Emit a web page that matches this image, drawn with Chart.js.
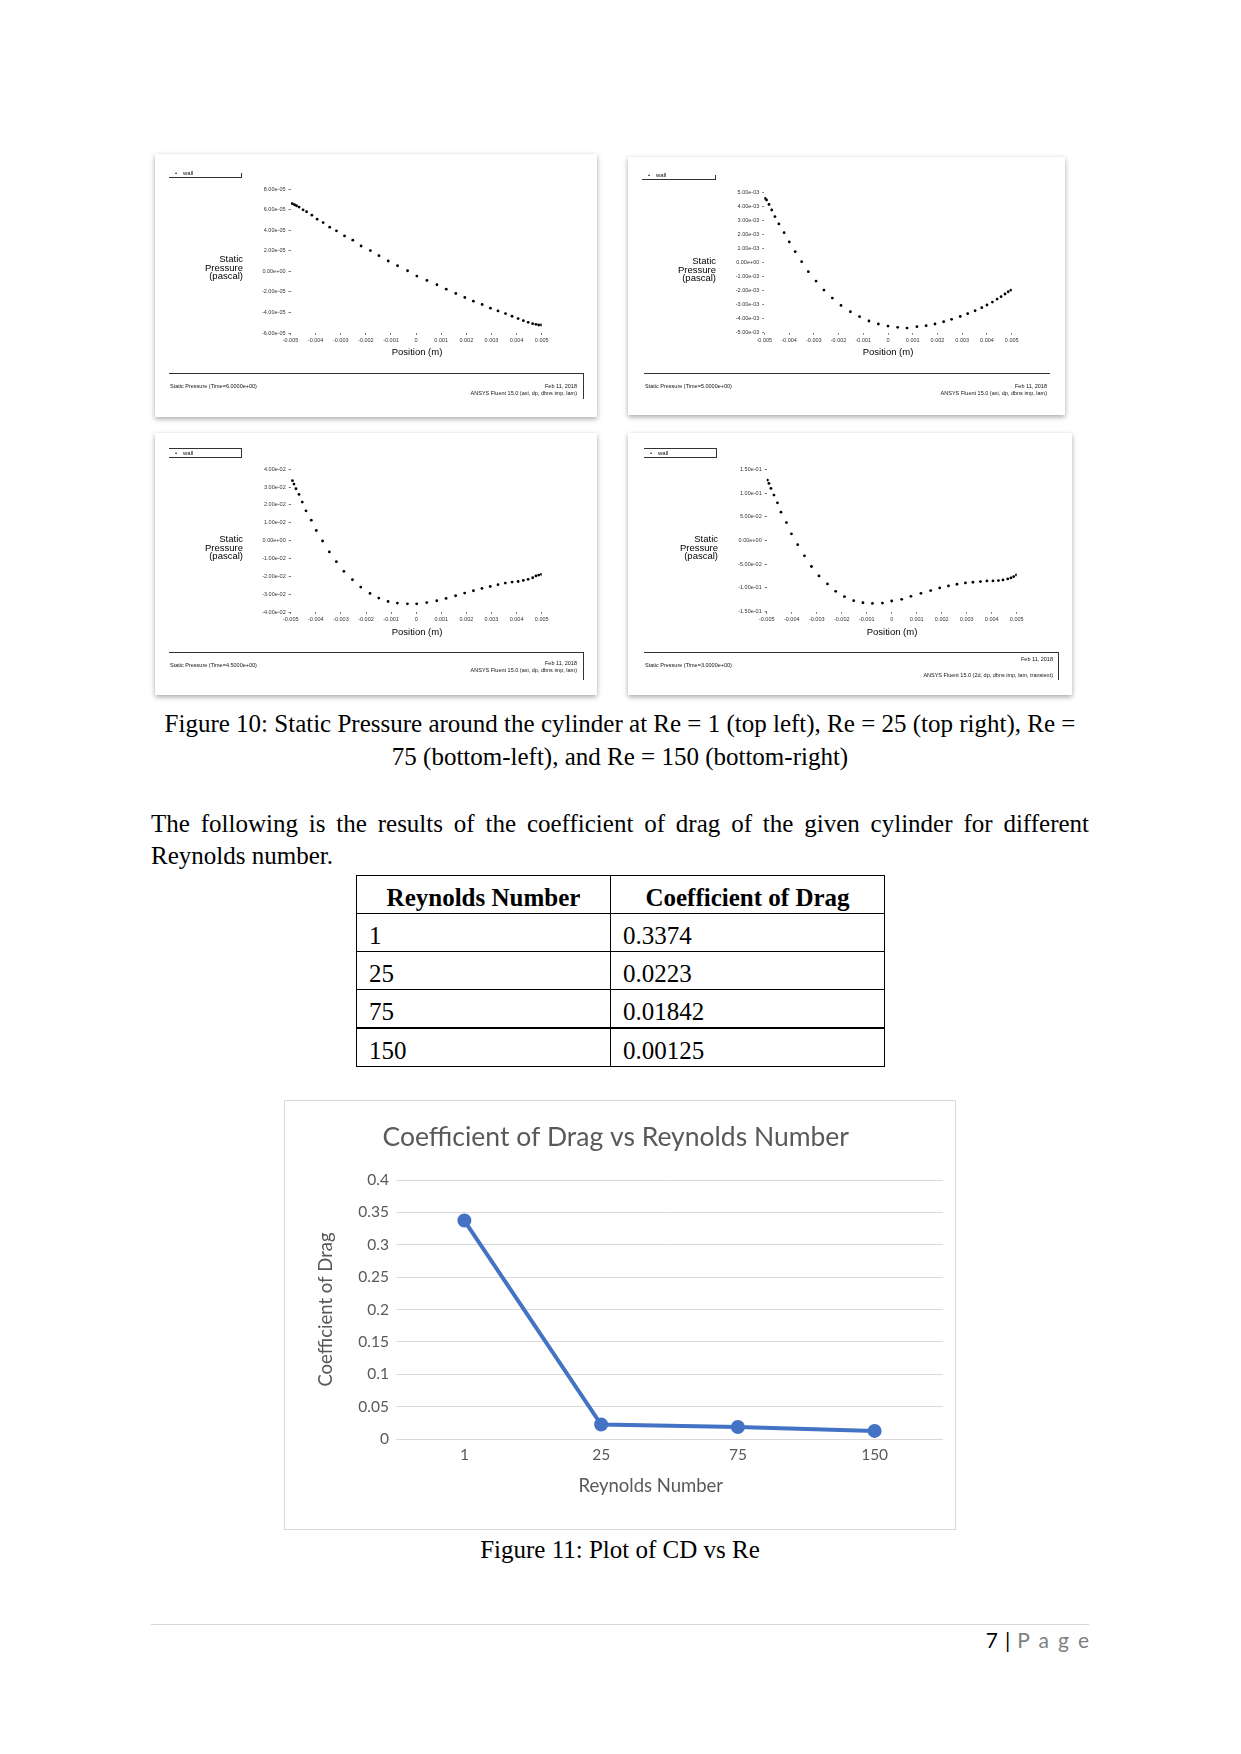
<!DOCTYPE html>
<html>
<head>
<meta charset="utf-8">
<script src="https://cdn.jsdelivr.net/npm/chart.js@4.4.0/dist/chart.umd.min.js"></script>
<style>
    html, body { margin: 0; padding: 0; background: #fff; }
    body { width: 1241px; height: 1754px; position: relative; overflow: hidden; font-family: "Liberation Serif", serif; color: #000; }
    .abs { position: absolute; white-space: nowrap; }
    .fig { position: absolute; background: #fff; box-shadow: 0 2px 5px rgba(0,0,0,0.35); }
    .fig canvas { position: absolute; left: 0; top: 0; }
    .fig .t { position: absolute; font-family: "Liberation Sans", Arial, sans-serif; white-space: nowrap; line-height: 1; color: #111; }
    .fig .ln { position: absolute; background: #333; }
    .cap { position: absolute; left: 151px; width: 938px; text-align: center; font-size: 25px; line-height: 33px; }
    .para { position: absolute; left: 151px; width: 938px; font-size: 25px; line-height: 33px; }
    #cdTable { position: absolute; left: 356px; top: 875px; width: 528px; border-collapse: collapse; font-size: 25px; table-layout: fixed; }
    #cdTable td, #cdTable th { border: 1px solid #000; height: 31px; padding: 6px 12px 0; line-height: 30px; text-align: left; vertical-align: middle; }
    #cdTable th { text-align: center; font-weight: bold; }
    #cdTable tr.thick td { border-top: 2px solid #000; }
    #cdBox { position: absolute; left: 284px; top: 1100px; width: 670px; height: 428px; border: 1px solid #d9d9d9; }
    #cdChart { position: absolute; left: 284px; top: 1100px; }
</style>
</head>
<body>

<div class="fig" id="fig1"></div>
<div class="fig" id="fig2"></div>
<div class="fig" id="fig3"></div>
<div class="fig" id="fig4"></div>

<div class="cap" style="top:707px">Figure 10: Static Pressure around the cylinder at Re = 1 (top left), Re = 25 (top right), Re =</div>
<div class="cap" style="top:740px">75 (bottom-left), and Re = 150 (bottom-right)</div>

<div class="para" style="top:807px; text-align:justify; text-align-last:justify;">The following is the results of the coefficient of drag of the given cylinder for different</div>
<div class="para" style="top:839px;">Reynolds number.</div>

<table id="cdTable"></table>

<div id="cdBox"></div>
<canvas id="cdChart" width="672" height="430"></canvas>

<div class="cap" style="top:1533px">Figure 11: Plot of CD vs Re</div>

<div class="abs" style="left:151px; top:1624px; width:938px; height:1px; background:#d9d9d9;"></div>
<div class="abs" style="right:152px; top:1627px; font-family:Lato, sans-serif; font-size:21px; line-height:26px;">7<span style="margin:0 7px;">|</span><span style="color:#7f7f7f; letter-spacing:9px;">Pag</span><span style="color:#7f7f7f;">e</span></div>

<script>
// coefficient of drag
const reynoldsLabels = ["1", "25", "75", "150"];
const dragPlotted = [0.3374, 0.0223, 0.01842, 0.0125];
const dragTable = ["0.3374", "0.0223", "0.01842", "0.00125"];
const dragTicks = [0, 0.05, 0.1, 0.15, 0.2, 0.25, 0.3, 0.35, 0.4];

// static pressure along the cylinder wall (Fluent exports)
const positionTicks = [-0.005, -0.004, -0.003, -0.002, -0.001, 0, 0.001, 0.002, 0.003, 0.004, 0.005];

const re1X = [-0.00493, -0.00484, -0.00476, -0.00466, -0.0045, -0.00436, -0.00415, -0.00394, -0.0037, -0.00344, -0.00317, -0.00285, -0.00252, -0.00219, -0.00182, -0.00148, -0.00111, -0.00074, -0.00034, 0.00003, 0.00043, 0.00083, 0.0012, 0.00158, 0.00194, 0.00228, 0.00263, 0.00296, 0.00326, 0.00356, 0.00382, 0.00406, 0.00427, 0.00446, 0.00464, 0.00477, 0.00488, 0.00499];
const re1P = [6.57e-5, 6.47e-5, 6.37e-5, 6.24e-5, 5.98e-5, 5.79e-5, 5.46e-5, 5.07e-5, 4.74e-5, 4.29e-5, 3.93e-5, 3.44e-5, 3.02e-5, 2.46e-5, 2.01e-5, 1.52e-5, 1.0e-5, 0.54e-5, 0.05e-5, -0.47e-5, -0.89e-5, -1.31e-5, -1.74e-5, -2.16e-5, -2.55e-5, -2.91e-5, -3.23e-5, -3.59e-5, -3.85e-5, -4.11e-5, -4.37e-5, -4.6e-5, -4.8e-5, -4.96e-5, -5.09e-5, -5.16e-5, -5.22e-5, -5.22e-5];
const re1Ticks = [-6e-5, -4e-5, -2e-5, 0, 2e-5, 4e-5, 6e-5, 8e-5];

const re25X = [-0.00497, -0.00491, -0.00481, -0.0047, -0.00457, -0.00441, -0.0042, -0.00399, -0.00375, -0.00349, -0.00322, -0.00291, -0.00259, -0.00225, -0.0019, -0.00152, -0.00115, -0.00077, -0.00039, 0, 0.00039, 0.00077, 0.00117, 0.00154, 0.0019, 0.00225, 0.00257, 0.00292, 0.00322, 0.00352, 0.00379, 0.004, 0.00422, 0.00441, 0.00457, 0.00473, 0.00486, 0.00497];
const re25P = [4.55e-3, 4.43e-3, 4.12e-3, 3.72e-3, 3.25e-3, 2.73e-3, 2.11e-3, 1.45e-3, 0.76e-3, 0.05e-3, -0.66e-3, -1.33e-3, -1.97e-3, -2.54e-3, -3.06e-3, -3.51e-3, -3.86e-3, -4.17e-3, -4.38e-3, -4.53e-3, -4.62e-3, -4.67e-3, -4.57e-3, -4.5e-3, -4.38e-3, -4.22e-3, -4.05e-3, -3.84e-3, -3.65e-3, -3.44e-3, -3.22e-3, -3.03e-3, -2.82e-3, -2.61e-3, -2.44e-3, -2.25e-3, -2.09e-3, -1.97e-3];
const re25Ticks = [-5e-3, -4e-3, -3e-3, -2e-3, -1e-3, 0, 1e-3, 2e-3, 3e-3, 4e-3, 5e-3];

const re75X = [-0.00493, -0.00487, -0.00479, -0.00467, -0.00454, -0.00439, -0.00418, -0.00398, -0.00373, -0.00346, -0.00318, -0.00288, -0.00254, -0.00221, -0.00184, -0.00149, -0.00112, -0.00075, -0.00035, 0.00002, 0.00042, 0.00082, 0.00119, 0.00157, 0.00193, 0.00228, 0.00262, 0.00295, 0.00326, 0.00355, 0.00382, 0.00406, 0.00427, 0.00446, 0.00464, 0.00477, 0.00488, 0.00499];
const re75P = [3.36e-2, 3.17e-2, 2.91e-2, 2.59e-2, 2.16e-2, 1.67e-2, 1.15e-2, 0.57e-2, -0.02e-2, -0.63e-2, -1.18e-2, -1.72e-2, -2.19e-2, -2.6e-2, -2.96e-2, -3.22e-2, -3.41e-2, -3.5e-2, -3.54e-2, -3.54e-2, -3.47e-2, -3.37e-2, -3.24e-2, -3.09e-2, -2.94e-2, -2.81e-2, -2.68e-2, -2.57e-2, -2.47e-2, -2.38e-2, -2.32e-2, -2.29e-2, -2.23e-2, -2.17e-2, -2.08e-2, -1.98e-2, -1.93e-2, -1.89e-2];
const re75Ticks = [-4e-2, -3e-2, -2e-2, -1e-2, 0, 1e-2, 2e-2, 3e-2, 4e-2];

const re150X = [-0.00497, -0.00491, -0.00483, -0.00471, -0.00457, -0.00443, -0.00421, -0.00401, -0.00376, -0.00349, -0.00321, -0.00291, -0.00257, -0.00224, -0.00189, -0.00152, -0.00115, -0.00077, -0.00037, 0, 0.0004, 0.00077, 0.00117, 0.00156, 0.00192, 0.00227, 0.00261, 0.00295, 0.00325, 0.00355, 0.00381, 0.00405, 0.00427, 0.00445, 0.00464, 0.00477, 0.00488, 0.00499];
const re150P = [0.1274, 0.1203, 0.1097, 0.0956, 0.0794, 0.0596, 0.0377, 0.0141, -0.0089, -0.0322, -0.0548, -0.0746, -0.0915, -0.1071, -0.1184, -0.1268, -0.1311, -0.1325, -0.1318, -0.1275, -0.124, -0.1177, -0.1113, -0.1056, -0.1, -0.0958, -0.0922, -0.0894, -0.088, -0.0866, -0.0852, -0.0852, -0.0845, -0.0831, -0.0809, -0.0788, -0.076, -0.0725];
const re150Ticks = [-0.15, -0.1, -0.05, 0, 0.05, 0.1, 0.15];

const figLayouts = [
    { id: "fig1", left: 155, top: 154, w: 442, h: 263, area: { l: 135.5, r: 386.7, t: 35, b: 179 },
      legend: { x: 14, w: 72, y: 19, top: null, bottom: 23 }, yTitle: { r: 88, y: 106 }, pos: { x: 262, y: 198 },
      foot: { y: 219, x1: 14, x2: 428, vEnd: 245, text: 233, r: 422, r1: 233, r2: 240 },
      time: "Static Pressure  (Time=6.0000e+00)", solver: "ANSYS Fluent 15.0 (axi, dp, dbns imp, lam)" },
    { id: "fig2", left: 628, top: 157, w: 437, h: 258, area: { l: 136.3, r: 383.7, t: 35, b: 175.7 },
      legend: { x: 14, w: 73, y: 18, top: null, bottom: 22 }, yTitle: { r: 88, y: 105 }, pos: { x: 260, y: 195 },
      foot: { y: 216, x1: 16, x2: 422, vEnd: null, text: 230, r: 419, r1: 230, r2: 237 },
      time: "Static Pressure  (Time=5.0000e+00)", solver: "ANSYS Fluent 15.0 (axi, dp, dbns imp, lam)" },
    { id: "fig3", left: 155, top: 433, w: 442, h: 262, area: { l: 135.7, r: 386.7, t: 36.3, b: 179 },
      legend: { x: 14, w: 72, y: 20, top: 15, bottom: 24 }, yTitle: { r: 88, y: 107 }, pos: { x: 262, y: 199 },
      foot: { y: 219, x1: 14, x2: 428, vEnd: 247, text: 233, r: 422, r1: 231, r2: 238 },
      time: "Static Pressure  (Time=4.5000e+00)", solver: "ANSYS Fluent 15.0 (axi, dp, dbns imp, lam)" },
    { id: "fig4", left: 628, top: 433, w: 444, h: 262, area: { l: 138.7, r: 388.7, t: 36.3, b: 178.7 },
      legend: { x: 16, w: 72, y: 20, top: 15, bottom: 24 }, yTitle: { r: 90, y: 107 }, pos: { x: 264, y: 199 },
      foot: { y: 219, x1: 16, x2: 430, vEnd: 247, text: 233, r: 425, r1: 227, r2: 243 },
      time: "Static Pressure  (Time=3.0000e+00)", solver: "ANSYS Fluent 15.0 (2d, dp, dbns imp, lam, transient)" },
];

function fmtExp(v) {
    return v.toExponential(2).replace(/e([+-])(\d)$/, "e$10$2");
}

function addText(box, txt, css) {
    const d = document.createElement("div");
    d.className = "t";
    d.textContent = txt;
    Object.assign(d.style, css);
    box.appendChild(d);
    return d;
}

function addLine(box, x, y, w, h) {
    const d = document.createElement("div");
    d.className = "ln";
    Object.assign(d.style, { left: x + "px", top: y + "px", width: w + "px", height: h + "px" });
    box.appendChild(d);
}

function pressureFigure(fig, xs, ys, yTicks) {
    const box = document.getElementById(fig.id);
    Object.assign(box.style, { left: fig.left + "px", top: fig.top + "px", width: fig.w + "px", height: fig.h + "px" });

    const cv = document.createElement("canvas");
    cv.width = fig.w;
    cv.height = fig.h;
    box.appendChild(cv);

    const tickFont = { family: "Liberation Sans", size: 5.5 };

    new Chart(cv, {
        type: "scatter",
        data: {
            datasets: [{
                data: xs.map((x, i) => ({ x: x, y: ys[i] })),
                pointRadius: 1.4,
                pointBackgroundColor: "#000",
                pointBorderWidth: 0,
                showLine: false,
            }],
        },
        options: {
            responsive: false,
            animation: false,
            layout: { padding: { left: 0, top: fig.area.t, right: fig.w - fig.area.r, bottom: 0 } },
            plugins: { legend: { display: false }, tooltip: { enabled: false } },
            scales: {
                x: {
                    type: "linear",
                    min: positionTicks[0],
                    max: positionTicks[positionTicks.length - 1],
                    afterBuildTicks: (s) => { s.ticks = positionTicks.map((v) => ({ value: v })); },
                    afterFit: (s) => { s.height = fig.h - fig.area.b; },
                    grid: { drawOnChartArea: false, tickLength: 2, tickColor: "#777" },
                    border: { display: false },
                    ticks: {
                        font: tickFont, color: "#333", padding: 2, maxRotation: 0, autoSkip: false,
                        callback: (v) => (v === 0 ? "0" : v.toFixed(3)),
                    },
                },
                y: {
                    min: yTicks[0],
                    max: yTicks[yTicks.length - 1],
                    afterBuildTicks: (s) => { s.ticks = yTicks.map((v) => ({ value: v })); },
                    afterFit: (s) => { s.width = fig.area.l; },
                    grid: { drawOnChartArea: false, tickLength: 2, tickColor: "#777" },
                    border: { display: false },
                    ticks: { font: tickFont, color: "#333", padding: 3, callback: (v) => fmtExp(v) },
                },
            },
        },
    });

    // legend
    const lg = fig.legend;
    addText(box, "•", { left: lg.x + 6 + "px", top: lg.y - 3 + "px", fontSize: "6px" });
    addText(box, "wall", { left: lg.x + 14 + "px", top: lg.y - 3 + "px", fontSize: "6px" });
    addLine(box, lg.x, lg.bottom, lg.w, 1);
    if (lg.top !== null) {
        addLine(box, lg.x, lg.top, lg.w, 1);
        addLine(box, lg.x + lg.w, lg.top, 1, lg.bottom - lg.top + 1);
    } else {
        addLine(box, lg.x + lg.w, lg.bottom - 4, 1, 5);
    }

    // axis titles
    const yt = addText(box, "", { right: fig.w - fig.yTitle.r + "px", top: fig.yTitle.y - 5 + "px", fontSize: "9.5px", lineHeight: "8.5px", textAlign: "right", color: "#000" });
    yt.innerHTML = "Static<br>Pressure<br>(pascal)";
    addText(box, "Position (m)", { left: fig.pos.x + "px", top: fig.pos.y - 5 + "px", fontSize: "9.5px", transform: "translateX(-50%)", color: "#000" });

    // footer
    const ft = fig.foot;
    addLine(box, ft.x1, ft.y, ft.x2 - ft.x1, 1);
    if (ft.vEnd !== null) addLine(box, ft.x2, ft.y, 1, ft.vEnd - ft.y);
    addText(box, fig.time, { left: ft.x1 + 1 + "px", top: ft.text - 3 + "px", fontSize: "5.5px" });
    addText(box, "Feb 11, 2018", { right: fig.w - ft.r + "px", top: ft.r1 - 3 + "px", fontSize: "5.5px" });
    addText(box, fig.solver, { right: fig.w - ft.r + "px", top: ft.r2 - 3 + "px", fontSize: "5.5px" });
}

function buildTable() {
    const table = document.getElementById("cdTable");
    let html = '<colgroup><col style="width:254px"><col style="width:274px"></colgroup>';
    html += "<tr><th>Reynolds Number</th><th>Coefficient of Drag</th></tr>";
    reynoldsLabels.forEach((re, i) => {
        const cls = i === reynoldsLabels.length - 1 ? ' class="thick"' : "";
        html += "<tr" + cls + "><td>" + re + "</td><td>" + dragTable[i] + "</td></tr>";
    });
    table.innerHTML = html;
}

function dragChart() {
    const grey = "#595959";
    new Chart(document.getElementById("cdChart"), {
        type: "line",
        data: {
            labels: reynoldsLabels,
            datasets: [{
                data: dragPlotted,
                borderColor: "#4472C4",
                backgroundColor: "#4472C4",
                borderWidth: 4,
                pointRadius: 5,
                pointBackgroundColor: "#4472C4",
                pointBorderColor: "#4472C4",
                tension: 0,
            }],
        },
        options: {
            responsive: false,
            animation: false,
            layout: { padding: { left: 31, right: 13, top: 21.5, bottom: 33 } },
            plugins: {
                legend: { display: false },
                tooltip: { enabled: false },
                title: {
                    display: true,
                    // trailing no-break spaces nudge the centred text left, as in the original
                    text: "Coefficient of Drag vs Reynolds Number" + "\u00a0".repeat(4),
                    color: grey,
                    font: { family: "Lato", size: 26.5, weight: "normal" },
                    padding: { top: 0, bottom: 26.7 },
                },
            },
            scales: {
                x: {
                    offset: true,
                    grid: { display: false },
                    border: { display: false },
                    afterFit: (s) => { s.height = 58; },
                    ticks: { color: grey, font: { family: "Lato", size: 15.5 }, padding: -1 },
                    title: {
                        display: true,
                        text: "Reynolds Number" + "\u00a0".repeat(8),
                        color: grey,
                        font: { family: "Lato", size: 18.5 },
                        padding: 0,
                    },
                },
                y: {
                    min: dragTicks[0],
                    max: dragTicks[dragTicks.length - 1],
                    afterBuildTicks: (s) => { s.ticks = dragTicks.map((v) => ({ value: v })); },
                    afterFit: (s) => { s.width = 81; },
                    grid: { color: "#d9d9d9", lineWidth: 1, drawTicks: false },
                    border: { display: false },
                    ticks: { color: grey, font: { family: "Lato", size: 15.5 }, padding: 7, callback: (v) => String(v) },
                    title: { display: true, text: "Coefficient of Drag", color: grey, font: { family: "Lato", size: 18.5 }, padding: 0 },
                },
            },
        },
    });
}

function draw() {
    buildTable();
    pressureFigure(figLayouts[0], re1X, re1P, re1Ticks);
    pressureFigure(figLayouts[1], re25X, re25P, re25Ticks);
    pressureFigure(figLayouts[2], re75X, re75P, re75Ticks);
    pressureFigure(figLayouts[3], re150X, re150P, re150Ticks);
    dragChart();
}

Promise.all([
    document.fonts.load("16px Lato"),
    document.fonts.load("10px 'Liberation Sans'"),
    document.fonts.load("25px 'Liberation Serif'"),
]).then(draw, draw);
</script>
</body>
</html>
